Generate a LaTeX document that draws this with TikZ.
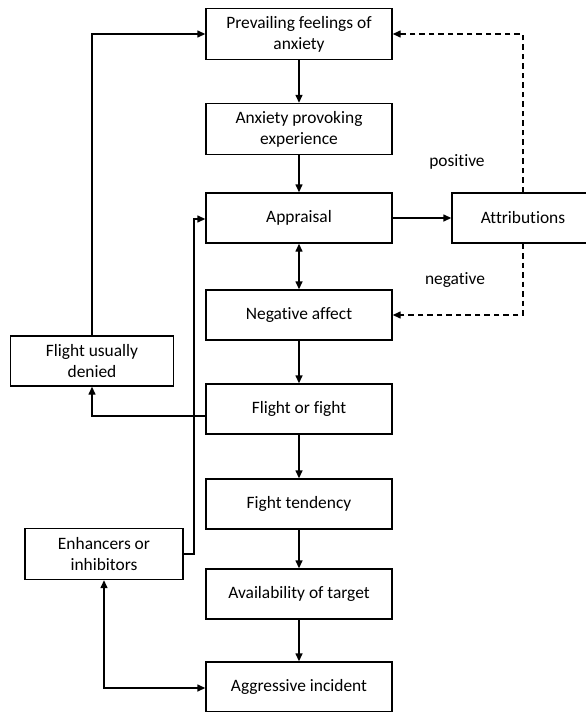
\documentclass[tikz,border=0pt]{standalone}
\usepackage{fontspec}
\setmainfont{Carlito}[Ligatures=NoCommon]
\usetikzlibrary{arrows.meta,positioning}
\begin{document}
\begin{tikzpicture}[x=1pt,y=-1pt,
  box/.style={draw,line width=1.4pt,rectangle,align=center,inner sep=0pt,
    font=\fontsize{17.4}{21}\selectfont},
  lbl/.style={font=\fontsize{17.4}{21}\selectfont,inner sep=0pt},
  conn/.style={line width=1.4pt,-{Triangle[length=8pt,width=7pt]}},
  dconn/.style={conn,dash pattern=on 5.5pt off 4pt}]
\useasboundingbox (0,0) rectangle (586,712);
\clip (0,0) rectangle (586,712);
\node[box,minimum width=186pt,minimum height=51pt] (prev) at (299,34) {Prevailing feelings of\\anxiety};
\node[box,minimum width=186pt,minimum height=51pt] (antic) at (299,129) {Anxiety provoking\\experience};
\node[box,minimum width=186pt,minimum height=50pt] (appr) at (299,218) {Appraisal};
\node[box,minimum width=142pt,minimum height=50pt] (attr) at (523,218) {Attributions};
\node[box,minimum width=186pt,minimum height=50pt] (neg) at (299,315) {Negative affect};
\node[box,minimum width=163pt,minimum height=50pt] (fden) at (92,361) {Flight usually\\denied};
\node[box,minimum width=186pt,minimum height=50pt] (ff) at (299,409) {Flight or fight};
\node[box,minimum width=186pt,minimum height=50pt] (ft) at (299,504) {Fight tendency};
\node[box,minimum width=158pt,minimum height=51pt] (enh) at (104,554) {Enhancers or\\inhibitors};
\node[box,minimum width=186pt,minimum height=50pt] (avail) at (299,594) {Availability of target};
\node[box,minimum width=186pt,minimum height=50pt] (aggr) at (299,687) {Aggressive incident};
\node[lbl] (pos) at (457,162) {positive};
\node[lbl] (negl) at (455,280) {negative};
\coordinate (ffw) at ([yshift=-7pt]ff.west);
\coordinate (enhe) at (enh.east);
\coordinate (apprw) at ([yshift=-1pt]appr.west);
\coordinate (aggrw) at ([yshift=-1pt]aggr.west);
\draw[conn] (prev) -- (antic);
\draw[conn] (antic) -- (appr);
\draw[conn] (appr) -- (attr);
\draw[conn,{Triangle[length=8pt,width=7pt]}-{Triangle[length=8pt,width=7pt]}] (appr) -- (neg);
\draw[conn] (neg) -- (ff);
\draw[conn] (ff) -- (ft);
\draw[conn] (ft) -- (avail);
\draw[conn] (avail) -- (aggr);
\draw[dconn] (attr.north) |- (prev.east);
\draw[dconn] (attr.south) |- (neg.east);
\draw[conn] (ffw) -| (fden.south);
\draw[conn] (fden.north) |- (prev.west);
\draw[conn] (enhe) -- (194,554) |- (apprw);
\draw[conn,{Triangle[length=8pt,width=7pt]}-{Triangle[length=8pt,width=7pt]}] (enh.south) |- (aggrw);
\end{tikzpicture}
\end{document}
